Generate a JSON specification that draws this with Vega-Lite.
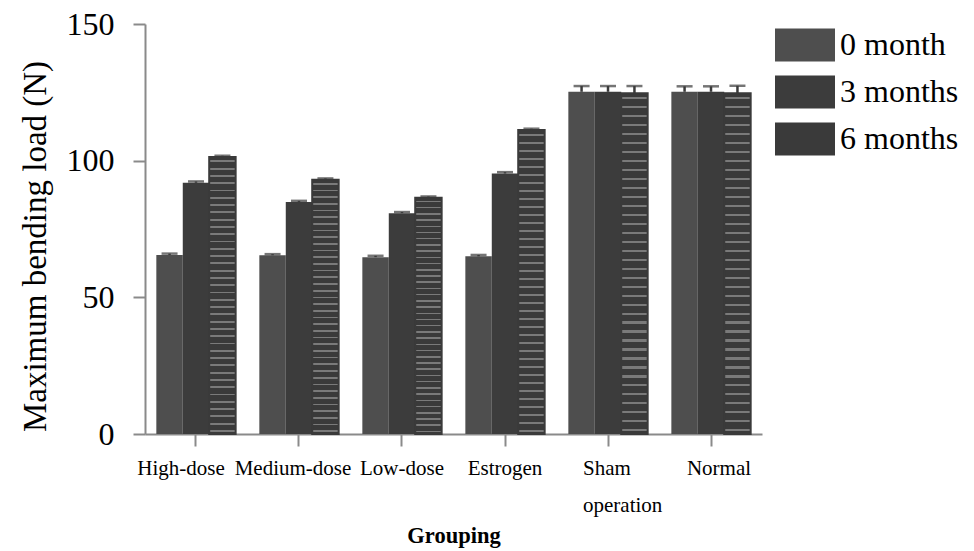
{
  "$schema": "https://vega.github.io/schema/vega-lite/v6.json",
  "autosize": {"type": "none"},
  "padding": {"left": 145, "top": 24, "right": 212, "bottom": 117},
  "width": 617,
  "height": 410,
  "background": "white",
  "config": {"view": {"stroke": null}, "font": "Liberation Serif"},
  "data": {"values": [
    {"group": "High-dose", "time": "0 month", "value": 65.5, "hi": 66.0},
    {"group": "High-dose", "time": "3 months", "value": 91.9, "hi": 92.4},
    {"group": "High-dose", "time": "6 months", "value": 101.3, "hi": 101.8},
    {"group": "Medium-dose", "time": "0 month", "value": 65.4, "hi": 65.8},
    {"group": "Medium-dose", "time": "3 months", "value": 84.9, "hi": 85.3},
    {"group": "Medium-dose", "time": "6 months", "value": 93.0, "hi": 93.5},
    {"group": "Low-dose", "time": "0 month", "value": 64.7, "hi": 65.2},
    {"group": "Low-dose", "time": "3 months", "value": 80.8, "hi": 81.2},
    {"group": "Low-dose", "time": "6 months", "value": 86.4, "hi": 86.9},
    {"group": "Estrogen", "time": "0 month", "value": 65.0, "hi": 65.5},
    {"group": "Estrogen", "time": "3 months", "value": 95.3, "hi": 95.8},
    {"group": "Estrogen", "time": "6 months", "value": 111.2, "hi": 111.7},
    {"group": "Sham operation", "time": "0 month", "value": 125.2, "hi": 127.3},
    {"group": "Sham operation", "time": "3 months", "value": 125.2, "hi": 127.3},
    {"group": "Sham operation", "time": "6 months", "value": 124.7, "hi": 127.3},
    {"group": "Normal", "time": "0 month", "value": 125.2, "hi": 127.2},
    {"group": "Normal", "time": "3 months", "value": 125.2, "hi": 127.2},
    {"group": "Normal", "time": "6 months", "value": 124.7, "hi": 127.4}
  ]},
  "encoding": {
    "x": {
      "field": "group", "type": "nominal", "sort": null,
      "scale": {"paddingInner": 0.23, "paddingOuter": 0.11},
      "axis": {
        "title": "Grouping", "titleFontWeight": "bold", "titleFontSize": 22.5, "titleColor": "#000",
        "titleFont": "Liberation Serif", "titleY": 101, "titleBaseline": "middle",
        "labelAngle": 0, "labelFontSize": 21, "labelColor": "#000", "labelFont": "Liberation Serif",
        "labelPadding": 11, "labelLineHeight": 37,
        "labelExpr": "datum.label === 'Sham operation' ? ['Sham', 'operation'] : datum.label",
        "labelAlign": {"condition": {"test": "datum.value === 'Sham operation'", "value": "left"}, "value": "center"},
        "labelOffset": {"condition": [
          {"test": "datum.value === 'High-dose'", "value": -15},
          {"test": "datum.value === 'Medium-dose'", "value": -6},
          {"test": "datum.value === 'Sham operation'", "value": -25},
          {"test": "datum.value === 'Normal'", "value": 8}
        ], "value": 0},
        "domainColor": "#8a8a8a", "domainWidth": 2, "tickColor": "#8a8a8a", "tickWidth": 2, "tickSize": 12,
        "labelLimit": 0, "labelOverlap": false
      }
    },
    "xOffset": {"field": "time", "type": "nominal", "scale": {"paddingInner": 0, "paddingOuter": 0}}
  },
  "layer": [
    {
      "mark": {"type": "bar"},
      "encoding": {
        "y": {
          "field": "value", "type": "quantitative",
          "scale": {"domain": [0, 150], "nice": false},
          "axis": {
            "title": "Maximum bending load (N)", "titleFontSize": 33, "titleFontWeight": "normal",
            "titleColor": "#000", "titleFont": "Liberation Serif",
            "titleX": -110, "titleY": 222, "titleBaseline": "middle",
            "values": [0, 50, 100, 150], "grid": false,
            "labelFontSize": 32, "labelColor": "#000", "labelFont": "Liberation Serif", "labelPadding": 19,
            "domainColor": "#8a8a8a", "domainWidth": 2, "tickColor": "#8a8a8a", "tickWidth": 2, "tickSize": 12
          }
        },
        "color": {
          "field": "time", "type": "nominal",
          "scale": {"domain": ["0 month", "3 months", "6 months"], "range": ["#4e4e4e", "#3c3c3c", "#3a3a3a"]},
          "legend": {
            "orient": "none", "legendX": 630, "legendY": -9, "title": null, "padding": 0,
            "symbolType": "M-1,-0.55H1V0.55H-1Z", "symbolSize": 3600, "symbolStrokeWidth": 0,
            "symbolOpacity": 1,
            "labelFont": "Liberation Serif", "labelFontSize": 32, "labelColor": "#000",
            "labelOffset": 5, "rowPadding": -12.5
          }
        }
      }
    },
    {
      "transform": [{"filter": "datum.time === '6 months'"}],
      "mark": {"type": "bar", "stroke": "#3a3a3a", "strokeWidth": 2, "color": {"gradient": "linear", "x1": 0, "y1": 0, "x2": 0, "y2": 1, "stops": [
        {"offset": 0, "color": "#3a3a3a"},
        {"offset": 0.012, "color": "#3a3a3a"}, {"offset": 0.012, "color": "#7a7a7a"}, {"offset": 0.0185, "color": "#7a7a7a"}, {"offset": 0.0185, "color": "#3a3a3a"},
        {"offset": 0.0383, "color": "#3a3a3a"}, {"offset": 0.0383, "color": "#7a7a7a"}, {"offset": 0.0448, "color": "#7a7a7a"}, {"offset": 0.0448, "color": "#3a3a3a"},
        {"offset": 0.0646, "color": "#3a3a3a"}, {"offset": 0.0646, "color": "#7a7a7a"}, {"offset": 0.0711, "color": "#7a7a7a"}, {"offset": 0.0711, "color": "#3a3a3a"},
        {"offset": 0.091, "color": "#3a3a3a"}, {"offset": 0.091, "color": "#7a7a7a"}, {"offset": 0.0975, "color": "#7a7a7a"}, {"offset": 0.0975, "color": "#3a3a3a"},
        {"offset": 0.1173, "color": "#3a3a3a"}, {"offset": 0.1173, "color": "#7a7a7a"}, {"offset": 0.1238, "color": "#7a7a7a"}, {"offset": 0.1238, "color": "#3a3a3a"},
        {"offset": 0.1436, "color": "#3a3a3a"}, {"offset": 0.1436, "color": "#7a7a7a"}, {"offset": 0.1501, "color": "#7a7a7a"}, {"offset": 0.1501, "color": "#3a3a3a"},
        {"offset": 0.1699, "color": "#3a3a3a"}, {"offset": 0.1699, "color": "#7a7a7a"}, {"offset": 0.1764, "color": "#7a7a7a"}, {"offset": 0.1764, "color": "#3a3a3a"},
        {"offset": 0.1962, "color": "#3a3a3a"}, {"offset": 0.1962, "color": "#7a7a7a"}, {"offset": 0.2027, "color": "#7a7a7a"}, {"offset": 0.2027, "color": "#3a3a3a"},
        {"offset": 0.2225, "color": "#3a3a3a"}, {"offset": 0.2225, "color": "#7a7a7a"}, {"offset": 0.229, "color": "#7a7a7a"}, {"offset": 0.229, "color": "#3a3a3a"},
        {"offset": 0.2488, "color": "#3a3a3a"}, {"offset": 0.2488, "color": "#7a7a7a"}, {"offset": 0.2553, "color": "#7a7a7a"}, {"offset": 0.2553, "color": "#3a3a3a"},
        {"offset": 0.2752, "color": "#3a3a3a"}, {"offset": 0.2752, "color": "#7a7a7a"}, {"offset": 0.2817, "color": "#7a7a7a"}, {"offset": 0.2817, "color": "#3a3a3a"},
        {"offset": 0.3015, "color": "#3a3a3a"}, {"offset": 0.3015, "color": "#7a7a7a"}, {"offset": 0.308, "color": "#7a7a7a"}, {"offset": 0.308, "color": "#3a3a3a"},
        {"offset": 0.3278, "color": "#3a3a3a"}, {"offset": 0.3278, "color": "#7a7a7a"}, {"offset": 0.3343, "color": "#7a7a7a"}, {"offset": 0.3343, "color": "#3a3a3a"},
        {"offset": 0.3541, "color": "#3a3a3a"}, {"offset": 0.3541, "color": "#7a7a7a"}, {"offset": 0.3606, "color": "#7a7a7a"}, {"offset": 0.3606, "color": "#3a3a3a"},
        {"offset": 0.3804, "color": "#3a3a3a"}, {"offset": 0.3804, "color": "#7a7a7a"}, {"offset": 0.3869, "color": "#7a7a7a"}, {"offset": 0.3869, "color": "#3a3a3a"},
        {"offset": 0.4067, "color": "#3a3a3a"}, {"offset": 0.4067, "color": "#7a7a7a"}, {"offset": 0.4132, "color": "#7a7a7a"}, {"offset": 0.4132, "color": "#3a3a3a"},
        {"offset": 0.4331, "color": "#3a3a3a"}, {"offset": 0.4331, "color": "#7a7a7a"}, {"offset": 0.4396, "color": "#7a7a7a"}, {"offset": 0.4396, "color": "#3a3a3a"},
        {"offset": 0.4594, "color": "#3a3a3a"}, {"offset": 0.4594, "color": "#7a7a7a"}, {"offset": 0.4659, "color": "#7a7a7a"}, {"offset": 0.4659, "color": "#3a3a3a"},
        {"offset": 0.4857, "color": "#3a3a3a"}, {"offset": 0.4857, "color": "#7a7a7a"}, {"offset": 0.4922, "color": "#7a7a7a"}, {"offset": 0.4922, "color": "#3a3a3a"},
        {"offset": 0.512, "color": "#3a3a3a"}, {"offset": 0.512, "color": "#7a7a7a"}, {"offset": 0.5185, "color": "#7a7a7a"}, {"offset": 0.5185, "color": "#3a3a3a"},
        {"offset": 0.5383, "color": "#3a3a3a"}, {"offset": 0.5383, "color": "#7a7a7a"}, {"offset": 0.5448, "color": "#7a7a7a"}, {"offset": 0.5448, "color": "#3a3a3a"},
        {"offset": 0.5646, "color": "#3a3a3a"}, {"offset": 0.5646, "color": "#7a7a7a"}, {"offset": 0.5711, "color": "#7a7a7a"}, {"offset": 0.5711, "color": "#3a3a3a"},
        {"offset": 0.591, "color": "#3a3a3a"}, {"offset": 0.591, "color": "#7a7a7a"}, {"offset": 0.5975, "color": "#7a7a7a"}, {"offset": 0.5975, "color": "#3a3a3a"},
        {"offset": 0.6173, "color": "#3a3a3a"}, {"offset": 0.6173, "color": "#7a7a7a"}, {"offset": 0.6238, "color": "#7a7a7a"}, {"offset": 0.6238, "color": "#3a3a3a"},
        {"offset": 0.6436, "color": "#3a3a3a"}, {"offset": 0.6436, "color": "#7a7a7a"}, {"offset": 0.6501, "color": "#7a7a7a"}, {"offset": 0.6501, "color": "#3a3a3a"},
        {"offset": 0.6699, "color": "#3a3a3a"}, {"offset": 0.6699, "color": "#7a7a7a"}, {"offset": 0.6764, "color": "#7a7a7a"}, {"offset": 0.6764, "color": "#3a3a3a"},
        {"offset": 0.6962, "color": "#3a3a3a"}, {"offset": 0.6962, "color": "#7a7a7a"}, {"offset": 0.7027, "color": "#7a7a7a"}, {"offset": 0.7027, "color": "#3a3a3a"},
        {"offset": 0.7225, "color": "#3a3a3a"}, {"offset": 0.7225, "color": "#7a7a7a"}, {"offset": 0.729, "color": "#7a7a7a"}, {"offset": 0.729, "color": "#3a3a3a"},
        {"offset": 0.7488, "color": "#3a3a3a"}, {"offset": 0.7488, "color": "#7a7a7a"}, {"offset": 0.7553, "color": "#7a7a7a"}, {"offset": 0.7553, "color": "#3a3a3a"},
        {"offset": 0.7752, "color": "#3a3a3a"}, {"offset": 0.7752, "color": "#7a7a7a"}, {"offset": 0.7817, "color": "#7a7a7a"}, {"offset": 0.7817, "color": "#3a3a3a"},
        {"offset": 0.8015, "color": "#3a3a3a"}, {"offset": 0.8015, "color": "#7a7a7a"}, {"offset": 0.808, "color": "#7a7a7a"}, {"offset": 0.808, "color": "#3a3a3a"},
        {"offset": 0.8278, "color": "#3a3a3a"}, {"offset": 0.8278, "color": "#7a7a7a"}, {"offset": 0.8343, "color": "#7a7a7a"}, {"offset": 0.8343, "color": "#3a3a3a"},
        {"offset": 0.8541, "color": "#3a3a3a"}, {"offset": 0.8541, "color": "#7a7a7a"}, {"offset": 0.8606, "color": "#7a7a7a"}, {"offset": 0.8606, "color": "#3a3a3a"},
        {"offset": 0.8804, "color": "#3a3a3a"}, {"offset": 0.8804, "color": "#7a7a7a"}, {"offset": 0.8869, "color": "#7a7a7a"}, {"offset": 0.8869, "color": "#3a3a3a"},
        {"offset": 0.9067, "color": "#3a3a3a"}, {"offset": 0.9067, "color": "#7a7a7a"}, {"offset": 0.9132, "color": "#7a7a7a"}, {"offset": 0.9132, "color": "#3a3a3a"},
        {"offset": 0.9331, "color": "#3a3a3a"}, {"offset": 0.9331, "color": "#7a7a7a"}, {"offset": 0.9396, "color": "#7a7a7a"}, {"offset": 0.9396, "color": "#3a3a3a"},
        {"offset": 0.9594, "color": "#3a3a3a"}, {"offset": 0.9594, "color": "#7a7a7a"}, {"offset": 0.9659, "color": "#7a7a7a"}, {"offset": 0.9659, "color": "#3a3a3a"},
        {"offset": 0.9857, "color": "#3a3a3a"}, {"offset": 0.9857, "color": "#7a7a7a"}, {"offset": 0.9922, "color": "#7a7a7a"}, {"offset": 0.9922, "color": "#3a3a3a"},
        {"offset": 1, "color": "#3a3a3a"}
      ]}},
      "encoding": {
        "y": {"field": "value", "type": "quantitative"}
      }
    },
    {
      "mark": {"type": "rule", "color": "#3a3a3a", "strokeWidth": 2.5},
      "encoding": {
        "y": {"field": "value", "type": "quantitative"},
        "y2": {"field": "hi"}
      }
    },
    {
      "mark": {"type": "tick", "color": "#3a3a3a", "thickness": 2.5, "size": 16, "orient": "horizontal"},
      "encoding": {
        "y": {"field": "hi", "type": "quantitative"}
      }
    }
  ]
}
